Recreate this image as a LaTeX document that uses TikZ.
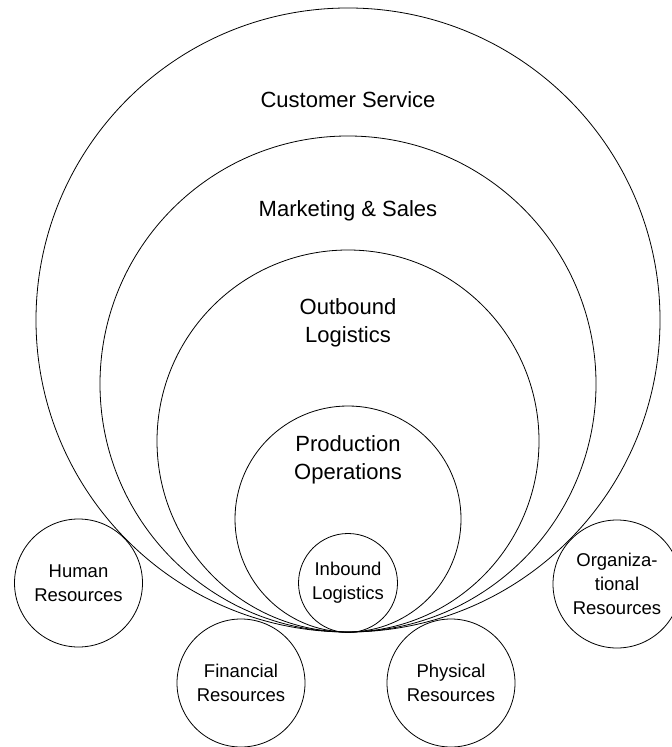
\documentclass[tikz,border=0pt]{standalone}
\usepackage{fontspec}
\setmainfont{Liberation Sans}
\begin{document}
\begin{tikzpicture}[x=0.5pt, y=-0.5pt,
  ring/.style={draw, circle, inner sep=0pt},
  ring_text/.style={align=center, font=\fontsize{11}{14}\selectfont},
  resource/.style={draw, circle, inner sep=0pt, minimum size=64pt,
    align=center, font=\fontsize{9.25}{12}\selectfont}]

\useasboundingbox (0,0) rectangle (672,747);

\node[ring, minimum size=312pt] (cs) at (348,320) {};
\node[ring, minimum size=248pt] (ms) at (348,384) {};
\node[ring, minimum size=191pt] (ol) at (348,441) {};
\node[ring, minimum size=113pt] (po) at (348,519) {};
\node[resource, minimum size=49.5pt] (il) at (348,583) {Inbound\\Logistics};

\node[ring_text] (cs_text) at (348,100) {Customer Service};
\node[ring_text] (ms_text) at (348,211) {Marketing \& Sales};
\node[ring_text] (ol_text) at (348,323) {Outbound\\Logistics};
\node[ring_text] (po_text) at (348,460) {Production\\Operations};

\node[resource] (hr) at (78.5,583) {Human\\Resources};
\node[resource] (fr) at (241,683) {Financial\\Resources};
\node[resource] (pr) at (451,683) {Physical\\Resources};
\node[resource] (or) at (617,584) {Organiza-\\tional\\Resources};

\end{tikzpicture}
\end{document}
